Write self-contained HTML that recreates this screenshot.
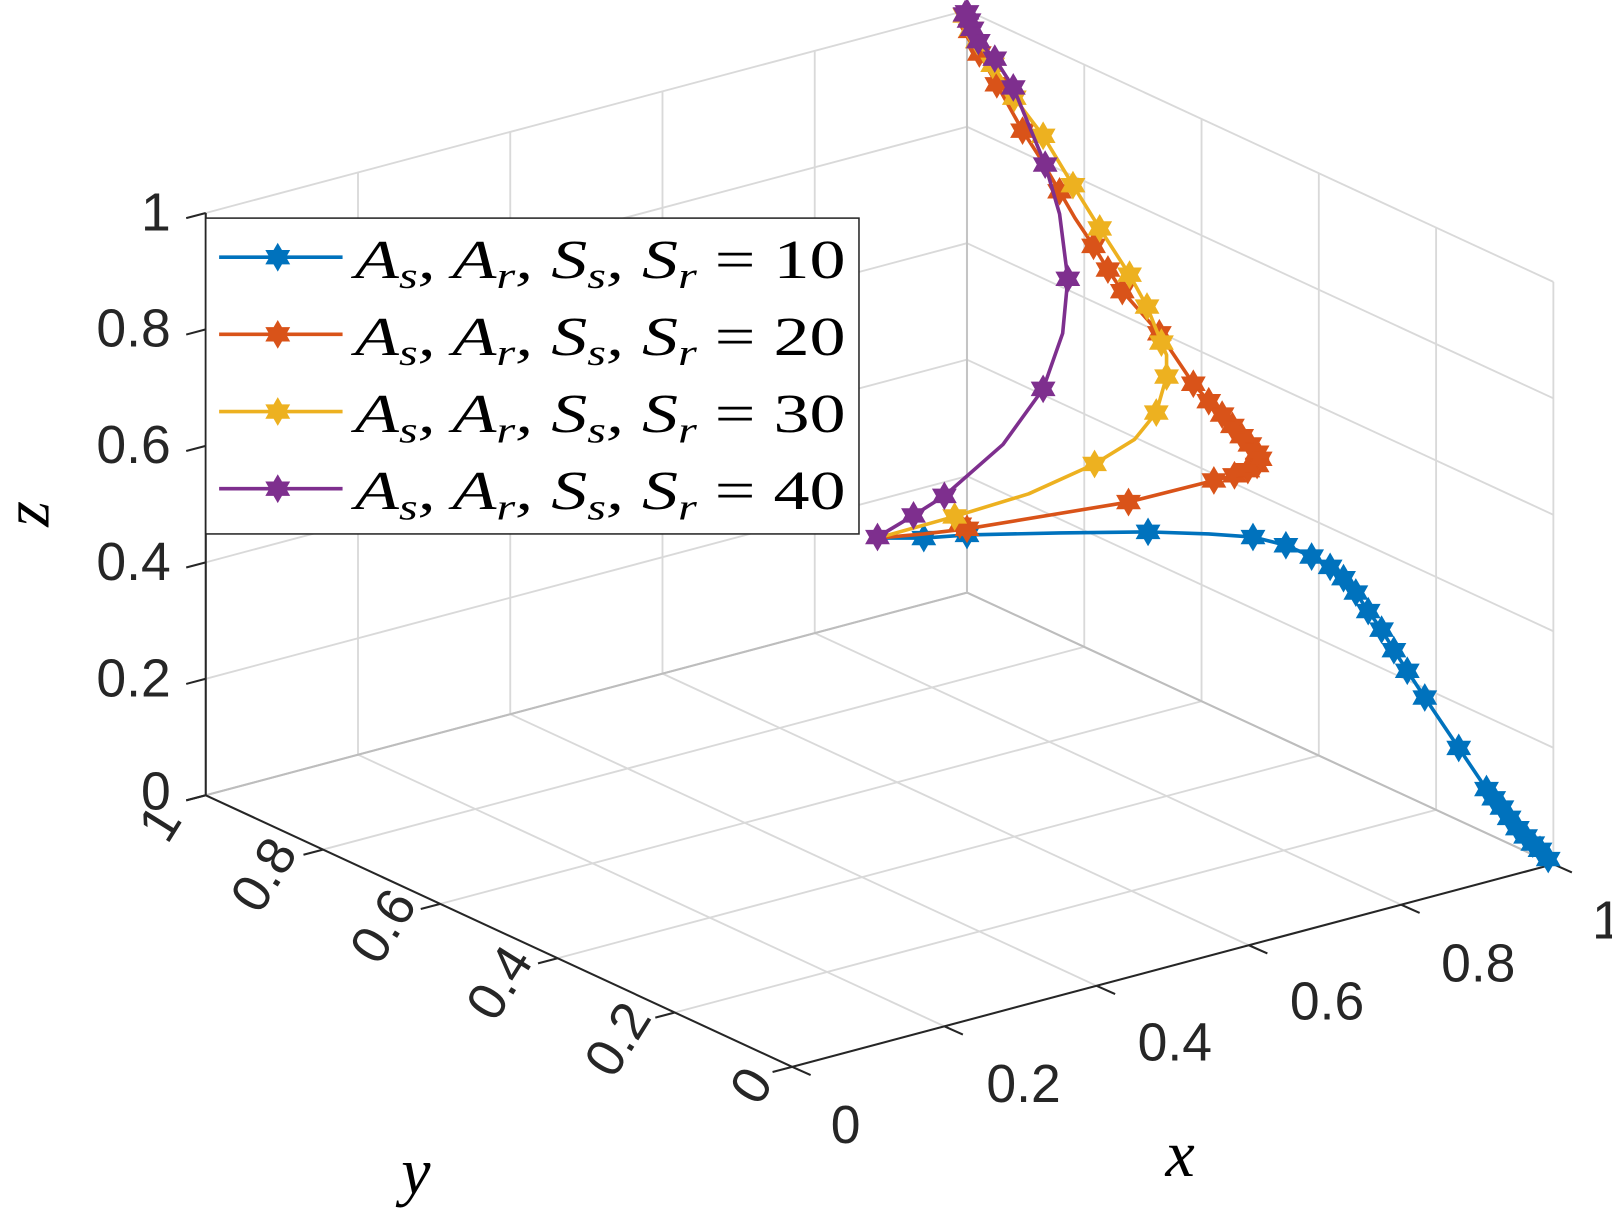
<!DOCTYPE html>
<html><head><meta charset="utf-8"><style>
html,body{margin:0;padding:0;background:#fff;}
svg{display:block;}
.t{font-family:"Liberation Sans",sans-serif;font-size:52px;fill:#262626;}
.m{font-family:"Liberation Serif",serif;font-style:italic;fill:#000;}
</style></head><body>
<svg id="s" width="1612" height="1215" viewBox="0 0 1567 1181" preserveAspectRatio="none" xmlns="http://www.w3.org/2000/svg">
<defs>
<symbol id="hx" viewBox="-12 -12 24 24" overflow="visible">
<path d="M0,-11 L3.2,-5.5 L9.5,-5.5 L6.4,0 L9.5,5.5 L3.2,5.5 L0,11 L-3.2,5.5 L-9.5,5.5 L-6.4,0 L-9.5,-5.5 L-3.2,-5.5 Z" />
</symbol>
</defs>
<g id="grid"></g>
<g id="axes"></g>
<g id="data"></g>
<text class="t" text-anchor="end" x="166" y="224">1</text>
<text class="t" text-anchor="end" x="166" y="337">0.8</text>
<text class="t" text-anchor="end" x="166" y="450">0.6</text>
<text class="t" text-anchor="end" x="166" y="564">0.4</text>
<text class="t" text-anchor="end" x="166" y="677">0.2</text>
<text class="t" text-anchor="end" x="166" y="787">0</text>
<text class="t" text-anchor="middle" x="822" y="1111">0</text>
<text class="t" text-anchor="middle" x="995" y="1071">0.2</text>
<text class="t" text-anchor="middle" x="1142" y="1031">0.4</text>
<text class="t" text-anchor="middle" x="1290" y="991">0.6</text>
<text class="t" text-anchor="middle" x="1437" y="954">0.8</text>
<text class="t" text-anchor="middle" x="1562" y="912">1</text>
<text class="t" text-anchor="middle" transform="translate(730,1055) rotate(-58)" dy="18">0</text>
<text class="t" text-anchor="middle" transform="translate(600,1010) rotate(-58)" dy="18">0.2</text>
<text class="t" text-anchor="middle" transform="translate(485,955) rotate(-58)" dy="18">0.4</text>
<text class="t" text-anchor="middle" transform="translate(372,900) rotate(-58)" dy="18">0.6</text>
<text class="t" text-anchor="middle" transform="translate(256,850) rotate(-58)" dy="18">0.8</text>
<text class="t" text-anchor="middle" transform="translate(155,800) rotate(-58)" dy="18">1</text>
<text class="m" font-size="64" x="1133" y="1143">x</text>
<text class="m" font-size="64" x="390" y="1160">y</text>
<text class="m" font-size="64" transform="translate(47,512) rotate(-90)">z</text>
<g id="leg">
<rect x="200" y="212" width="635" height="307" fill="#fff" stroke="#262626" stroke-width="1.5"/>
</g>
</svg>
<script>
var NS="http://www.w3.org/2000/svg";
function P(x,y,z){return [770+740*x-570*y, 1037-197*x-264*y-566*z];}
function line(g,a,b,c,w){var l=document.createElementNS(NS,"line");l.setAttribute("x1",a[0]);l.setAttribute("y1",a[1]);l.setAttribute("x2",b[0]);l.setAttribute("y2",b[1]);l.setAttribute("stroke",c);l.setAttribute("stroke-width",w);g.appendChild(l);}
var G=document.getElementById("grid"),A=document.getElementById("axes"),D=document.getElementById("data");
var gc="#d9d9d9";
for(var i=1;i<=5;i++){var v=i/5;
 line(G,P(v,0,0),P(v,1,0),gc,1.8); line(G,P(0,v,0),P(1,v,0),gc,1.8);}
for(var i=0;i<=5;i++){var v=i/5;
 line(G,P(v,1,0),P(v,1,1),gc,1.8); line(G,P(1,v,0),P(1,v,1),gc,1.8);
 line(G,P(0,1,v),P(1,1,v),gc,1.8); line(G,P(1,0,v),P(1,1,v),gc,1.8);}
line(G,P(0,1,0),P(1,1,0),"#bdbdbd",2);line(G,P(1,0,0),P(1,1,0),"#bdbdbd",2);line(G,P(1,1,0),P(1,1,1),"#c4c4c4",2);
var ac="#262626";
line(A,P(0,1,0),P(0,1,1),ac,2);line(A,P(0,0,0),P(1,0,0),ac,2);line(A,P(0,0,0),P(0,1,0),ac,2);
for(var i=0;i<=5;i++){var v=i/5;
 var a=P(0,1,v);line(A,a,[a[0]-19,a[1]+5],ac,2);
 a=P(v,0,0);line(A,a,[a[0]+18,a[1]+8],ac,2);
 a=P(0,v,0);line(A,a,[a[0]-19,a[1]+5],ac,2);}
function star(g,x,y,c){var u=document.createElementNS(NS,"use");u.setAttribute("href","#hx");u.setAttribute("x",x-14);u.setAttribute("y",y-14);u.setAttribute("width",28);u.setAttribute("height",28);u.setAttribute("fill",c);u.setAttribute("stroke",c);u.setAttribute("stroke-width","1");g.appendChild(u);}
function series(pts,mk,c){var p=document.createElementNS(NS,"polyline");p.setAttribute("points",pts.map(function(q){return q.join(",")}).join(" "));p.setAttribute("fill","none");p.setAttribute("stroke",c);p.setAttribute("stroke-width","3.5");p.setAttribute("stroke-linejoin","round");D.appendChild(p);mk.forEach(function(q){star(D,q[0],q[1],c);});}
var B="#0072BD",R="#D95319",Y="#EDB120",M="#7E2F8E";
var bl=[[853,523],[898,523],[940,520],[1030,518],[1116,517],[1175,519],[1218,522],[1250,530],[1275,541],[1293,551],[1306,562],[1318,576],[1330,594],[1343,612],[1355,632],[1368,652],[1385,678],[1418,727],[1445,767],[1452,776],[1460,785],[1467,795],[1475,805],[1483,813],[1490,820],[1497,826],[1505,835]];
series(bl,bl.filter(function(q,i){return i!=3&&i!=5&&i!=0;}),B);
var rl=[[853,523],[898,519],[940,514],[1097,488],[1180,467],[1200,462],[1213,457],[1222,452],[1225,446],[1222,440],[1215,432],[1207,424],[1198,414],[1188,403],[1175,390],[1160,373],[1127,324],[1091,283],[1077,262],[1063,239],[1045,212],[1030,186],[1012,155],[994,127],[969,82],[952,52],[943,30],[938,15]];
series(rl,rl.filter(function(q,i){return i!=0&&i!=1&&i!=20&&i!=22;}).concat([[933,510]]),R);
var yl=[[853,523],[928,502],[1000,480],[1064,451],[1103,427],[1124,401],[1134,366],[1134,345],[1129,333],[1115,298],[1098,267],[1069,222],[1043,180],[1014,132],[986,95],[965,63],[950,40],[944,28],[938,15]];
series(yl,yl.filter(function(q,i){return i!=0&&i!=2&&i!=4&&i!=7;}),Y);
var pl=[[853,522],[888,501],[918,482],[975,432],[1014,378],[1033,324],[1038,271],[1030,208],[1016,160],[985,85],[967,57],[951,40],[945,28],[940,12]];
series(pl,pl.filter(function(q,i){return i!=3&&i!=5&&i!=7;}).concat([[942,20],[938,14]]),M);
var L=document.getElementById("leg");var cs=[B,R,Y,M];
for(var i=0;i<4;i++){var yy=250+75*i;line(L,[213,yy],[333,yy],cs[i],3.5);star(L,270,yy,cs[i]);}
</script>
<div style="position:absolute;left:0;top:0;width:1612px;height:1215px;pointer-events:none;">
<svg width="1612" height="1215" viewBox="0 0 1567 1181" preserveAspectRatio="none" style="position:absolute;left:0;top:0">
<g class="m" font-size="54">
<text x="345" y="270" textLength="477" lengthAdjust="spacingAndGlyphs">A<tspan font-size="36" dy="10">s</tspan><tspan dy="-10">, A</tspan><tspan font-size="36" dy="10">r</tspan><tspan dy="-10">, S</tspan><tspan font-size="36" dy="10">s</tspan><tspan dy="-10">, S</tspan><tspan font-size="36" dy="10">r</tspan><tspan dy="-10" font-style="normal"> = 10</tspan></text>
<text x="345" y="345" textLength="477" lengthAdjust="spacingAndGlyphs">A<tspan font-size="36" dy="10">s</tspan><tspan dy="-10">, A</tspan><tspan font-size="36" dy="10">r</tspan><tspan dy="-10">, S</tspan><tspan font-size="36" dy="10">s</tspan><tspan dy="-10">, S</tspan><tspan font-size="36" dy="10">r</tspan><tspan dy="-10" font-style="normal"> = 20</tspan></text>
<text x="345" y="420" textLength="477" lengthAdjust="spacingAndGlyphs">A<tspan font-size="36" dy="10">s</tspan><tspan dy="-10">, A</tspan><tspan font-size="36" dy="10">r</tspan><tspan dy="-10">, S</tspan><tspan font-size="36" dy="10">s</tspan><tspan dy="-10">, S</tspan><tspan font-size="36" dy="10">r</tspan><tspan dy="-10" font-style="normal"> = 30</tspan></text>
<text x="345" y="495" textLength="477" lengthAdjust="spacingAndGlyphs">A<tspan font-size="36" dy="10">s</tspan><tspan dy="-10">, A</tspan><tspan font-size="36" dy="10">r</tspan><tspan dy="-10">, S</tspan><tspan font-size="36" dy="10">s</tspan><tspan dy="-10">, S</tspan><tspan font-size="36" dy="10">r</tspan><tspan dy="-10" font-style="normal"> = 40</tspan></text>
</g>
</svg>
</div>
</body></html>
